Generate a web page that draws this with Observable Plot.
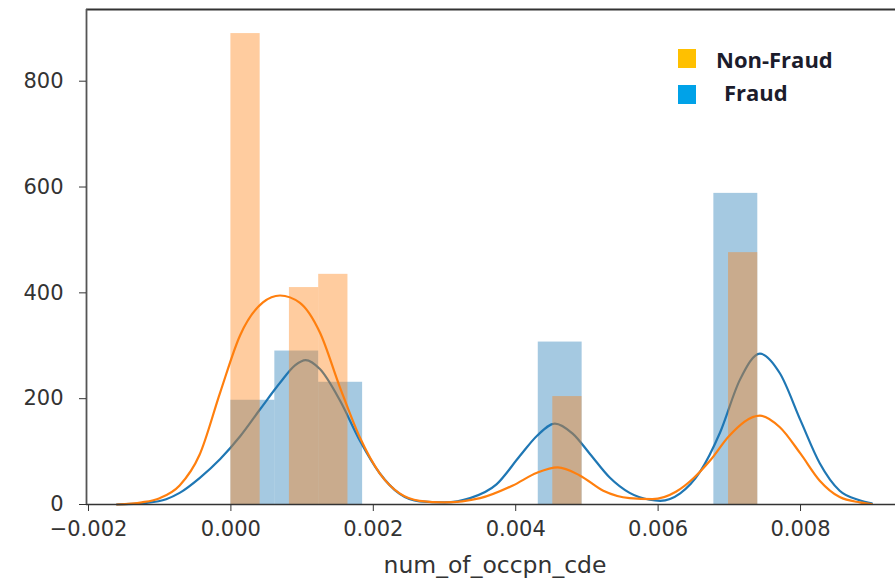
<!DOCTYPE html>
<html>
<head>
<meta charset="utf-8">
<script src="https://cdn.jsdelivr.net/npm/d3@7"></script>
<script src="https://cdn.jsdelivr.net/npm/@observablehq/plot@0.6"></script>
<style>
  body { margin: 0; background: #fff; }
  #wrap { position: relative; width: 895px; height: 578px; overflow: hidden; background: #fff; }
  .leg { position: absolute; font-family: "Open Sans", sans-serif; font-weight: 700; font-size: 22px; line-height: 1; color: #1c1c2c; white-space: nowrap; }
  .sw { position: absolute; width: 18px; height: 19px; }
</style>
</head>
<body>
<div id="wrap"></div>
<script>
// ---- data ----
const xTicks = [-0.002, 0.000, 0.002, 0.004, 0.006, 0.008];
const yTicks = [0, 200, 400, 600, 800];
const xLabel = "num_of_occpn_cde";
const legendLabels = ["Non-Fraud", "Fraud"];

// Fraud histogram (blue)
const fraudBinStart = [0.000000, 0.000617, 0.001233, 0.004317, 0.006783];
const fraudBinEnd   = [0.000617, 0.001233, 0.001850, 0.004933, 0.007400];
const fraudHeight   = [197, 290, 231, 307, 588];

// Non-Fraud histogram (orange)
const nonFraudBinStart = [0.000000, 0.000822, 0.001233, 0.004521, 0.006989];
const nonFraudBinEnd   = [0.000411, 0.001233, 0.001644, 0.004932, 0.007400];
const nonFraudHeight   = [890, 410, 435, 204, 476];

// KDE curves
const fraudKdeX = [-0.0016, -0.0012, -0.00091, -0.00072, -0.00044, -0.00015, 0.00013, 0.00041, 0.00069, 0.0009, 0.00105, 0.00125, 0.00153, 0.00181, 0.00209, 0.00237, 0.00265, 0.0030, 0.00336, 0.00373, 0.00406, 0.0043, 0.00455, 0.0048, 0.00504, 0.00532, 0.0056, 0.00588, 0.00603, 0.00631, 0.00659, 0.00687, 0.00715, 0.00743, 0.00771, 0.0080, 0.00827, 0.00855, 0.00883, 0.0090];
const fraudKdeY = [0, 3, 10, 22, 50, 86, 129, 180, 230, 263, 273, 256, 197, 121, 59, 20, 6, 4, 12, 38, 92, 130, 153, 134, 96, 51, 22, 9, 7, 21, 62, 136, 236, 285, 248, 159, 78, 26, 8, 2];

const nonFraudKdeX = [-0.0016, -0.00125, -0.0010, -0.00072, -0.00044, -0.00015, 0.00013, 0.00045, 0.00069, 0.00097, 0.00125, 0.00153, 0.00181, 0.00209, 0.00237, 0.00265, 0.0030, 0.0035, 0.00396, 0.0043, 0.00459, 0.0049, 0.00523, 0.0056, 0.00592, 0.00625, 0.00650, 0.00673, 0.0070, 0.00743, 0.00771, 0.0080, 0.00827, 0.00855, 0.00883, 0.0090];
const nonFraudKdeY = [0, 4, 12, 36, 94, 212, 320, 382, 395, 381, 325, 222, 127, 59, 21, 7, 4, 12, 36, 60, 70, 55, 26, 12, 10, 24, 50, 83, 130, 168, 146, 96, 45, 14, 4, 1];

// ---- build tables ----
const fraudBars = fraudHeight.map((h, i) => ({x1: fraudBinStart[i], x2: fraudBinEnd[i], y: h}));
const nonFraudBars = nonFraudHeight.map((h, i) => ({x1: nonFraudBinStart[i], x2: nonFraudBinEnd[i], y: h}));
const fraudKde = fraudKdeX.map((x, i) => ({x, y: fraudKdeY[i]}));
const nonFraudKde = nonFraudKdeX.map((x, i) => ({x, y: nonFraudKdeY[i]}));

const xDomain = [-0.002028, 0.009334];
const yDomain = [0, 935.5];

const blue = "#1f77b4";
const orange = "#ff7f0e";
const spine = "#333333";

const chart = Plot.plot({
  width: 895,
  height: 578,
  marginLeft: 86,
  marginRight: 0,
  marginTop: 9,
  marginBottom: 74,
  style: {fontFamily: "DejaVu Sans, sans-serif", fontSize: "21px", color: "#333", background: "#fff"},
  x: {domain: xDomain},
  y: {domain: yDomain},
  marks: [
    Plot.rectY(fraudBars, {x1: "x1", x2: "x2", y: "y", fill: blue, fillOpacity: 0.4, inset: 0}),
    Plot.line(fraudKde, {x: "x", y: "y", stroke: blue, strokeWidth: 2.2, curve: "monotone-x"}),
    Plot.rectY(nonFraudBars, {x1: "x1", x2: "x2", y: "y", fill: orange, fillOpacity: 0.4, inset: 0}),
    Plot.line(nonFraudKde, {x: "x", y: "y", stroke: orange, strokeWidth: 2.2, curve: "monotone-x"}),
    Plot.ruleY([yDomain[0]], {stroke: spine, strokeWidth: 1.6}),
    Plot.ruleY([yDomain[1]], {stroke: spine, strokeWidth: 2}),
    Plot.ruleX([xDomain[0]], {stroke: "#555", strokeWidth: 1.8}),
    Plot.axisX({ticks: xTicks, tickFormat: d3.format(".3f"), tickSize: 7, tickPadding: 10, label: null, stroke: spine}),
    Plot.axisY({ticks: yTicks, tickSize: 7, tickPadding: 16, label: null, stroke: spine}),
    Plot.text([xLabel], {text: d => d, frameAnchor: "bottom", dx: 4, dy: 68, lineAnchor: "bottom", fill: "#333", fontSize: 23.5})
  ]
});

const wrap = document.getElementById("wrap");
wrap.appendChild(chart);

// legend overlay (inside the plot area, top right)
const legendColors = ["#ffc000", "#00a2e8"];
const legendTop = [49, 85];
const legendTextLeft = [716, 724];
const legendTextTop = [48, 81];
legendLabels.forEach((lab, i) => {
  const sw = document.createElement("div");
  sw.className = "sw";
  sw.style.left = "678px";
  sw.style.top = legendTop[i] + "px";
  sw.style.background = legendColors[i];
  wrap.appendChild(sw);
  const t = document.createElement("div");
  t.className = "leg";
  t.style.left = legendTextLeft[i] + "px";
  t.style.top = legendTextTop[i] + "px";
  t.textContent = lab;
  wrap.appendChild(t);
});
</script>
</body>
</html>
